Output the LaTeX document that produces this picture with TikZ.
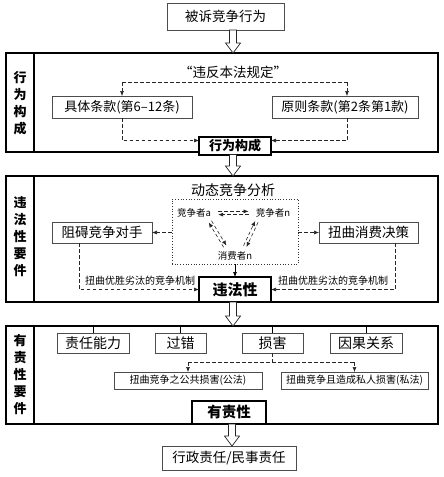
\documentclass[tikz,border=0pt]{standalone}
\usepackage{fontspec}
\setmainfont{Noto Sans CJK SC}
\usetikzlibrary{calc,arrows.meta}
\newcommand\hollowarr[3]{%
  \path let \p1=(#2), \p2=(#3) in [draw=black!85, fill=white, line width=0.7pt]
    (#1pt-3.5pt,\y1) -- (#1pt-3.5pt,\y2+10pt) -- (#1pt-7.5pt,\y2+10pt) -- (#1pt,\y2)
    -- (#1pt+7.5pt,\y2+10pt) -- (#1pt+3.5pt,\y2+10pt) -- (#1pt+3.5pt,\y1) -- cycle;}
\newcommand\duoarrow[2]{%
  \draw[dsh,-{Latex[length=5pt,width=4pt]}] ($(#1)!1.6pt!90:(#2)$) -- ($(#2)!1.6pt!-90:(#1)$);
  \draw[dsh,-{Latex[length=5pt,width=4pt]}] ($(#2)!1.6pt!90:(#1)$) -- ($(#1)!1.6pt!-90:(#2)$);}
\tikzset{
  fs/.style={font=\fontsize{#1}{#1}\selectfont},
  box/.style={draw=black!70, line width=0.8pt, inner sep=0pt, outer sep=0pt, align=center},
  tbox/.style={draw=black, line width=2pt, fill=white, inner sep=0pt, outer sep=0pt, align=center, font=\bfseries\fontsize{13}{13}\selectfont},
  sec/.style={draw=black, line width=1.2pt, inner sep=0pt, outer sep=0pt},
  lab/.style={align=center, font=\bfseries\fontsize{13}{17}\selectfont, inner sep=0pt},
  dsh/.style={dashed, dash pattern=on 3.5pt off 2.5pt, line width=0.6pt, draw=black!85},
  arr/.style={-{Latex[length=5pt,width=4pt]}},
}
\begin{document}
\begin{tikzpicture}[x=1pt,y=-1pt]
\useasboundingbox (0,0) rectangle (444,477);
% top
\node[box, minimum width=117pt, minimum height=27pt, fs=13.5] (top) at (225.5,16.5) {被诉竞争行为};

% section 1
\node[sec, minimum width=432pt, minimum height=99pt] (sec1) at (222,102.5) {};
\draw[line width=1.2pt] (34,0 |- sec1.north) -- (34,0 |- sec1.south);
\node[lab] (l1) at (20,103) {行\\为\\构\\成};
\node[fs=13.5, inner sep=0pt] (q) at (233,72) {“违反本法规定”};
\node[box, minimum width=140pt, minimum height=22pt, fs=13] (jt) at (122,107) {具体条款(第6–12条)};
\node[box, minimum width=146pt, minimum height=22pt, fs=13] (yz) at (345,107) {原则条款(第2条第1款)};
\node[tbox, minimum width=72pt, minimum height=18pt] (xw) at (235,145.5) {行为构成};
\coordinate (d1) at (jt.north |- 0,82);
\coordinate (d2) at (347,82);
\draw[dsh] (d1) -- (d2);
\draw[dsh,arr] (d1) -- (jt.north);
\draw[dsh,arr] (d2) -- (d2 |- yz.north);
\draw[dsh,arr] (jt.south) |- ($(xw.west)+(0,-5)$);
\draw[dsh,arr] (d2 |- yz.south) |- ($(xw.east)+(0,-5)$);

% section 2
\node[sec, minimum width=432pt, minimum height=126pt] (sec2) at (222,239) {};
\draw[line width=1.2pt] (34,0 |- sec2.north) -- (34,0 |- sec2.south);
\node[lab] (l2) at (20,237) {违\\法\\性\\要\\件};
\node[fs=14, inner sep=0pt] (dt) at (233,190.5) {动态竞争分析};
\node[draw=black!80, dotted, line width=0.7pt, minimum width=126pt, minimum height=65pt, inner sep=0pt] (dot) at (235,231.5) {};
\node[fs=9.5, inner sep=1pt] (ca) at (194,213) {竞争者a};
\node[fs=9.5, inner sep=1pt] (cn) at (273,213) {竞争者n};
\node[fs=9.5, inner sep=1pt] (cs) at (235,256) {消费者n};
\coordinate (h1) at ($(ca.east)+(6,0)$);
\coordinate (h2) at ($(cn.west)+(-6,0)$);
\duoarrow{h1}{h2}
\coordinate (a1) at ($(ca.south east)+(-2,3)$);
\coordinate (a2) at ($(cs.north)+(-10,-4)$);
\coordinate (b1) at ($(cn.south west)+(2,3)$);
\coordinate (b2) at ($(cs.north)+(10,-4)$);
\duoarrow{a1}{a2}
\duoarrow{b1}{b2}
\node[box, minimum width=100pt, minimum height=21pt, fs=13.5] (zd) at (102,232.5) {阻碍竞争对手};
\node[box, minimum width=99pt, minimum height=21pt, fs=13.5] (nq) at (368.5,232.5) {扭曲消费决策};
\draw[dsh,arr] (dot.west |- zd.east) -- (zd.east);
\draw[dsh,arr] (dot.east |- nq.west) -- (nq.west);
\node[tbox, minimum width=72pt, minimum height=25pt, font=\bfseries\fontsize{15}{15}\selectfont] (wf) at (235,289.5) {违法性};
\draw[line width=0.7pt,arr] (dot.south) -- (wf.north);
\draw[dsh,arr] ($(zd.south west)!0.27!(zd.south east)$) |- (wf.west);
\draw[dsh,arr] ($(nq.south west)!0.77!(nq.south east)$) |- (wf.east);
\node[fs=10, inner sep=0pt] (m1) at (140,281) {扭曲优胜劣汰的竞争机制};
\node[fs=10, inner sep=0pt] (m2) at (333,281) {扭曲优胜劣汰的竞争机制};

% section 3
\node[sec, minimum width=432pt, minimum height=98pt] (sec3) at (222,375) {};
\draw[line width=1.2pt] (34,0 |- sec3.north) -- (34,0 |- sec3.south);
\node[lab] (l3) at (20,375) {有\\责\\性\\要\\件};
\node[box, minimum width=72pt, minimum height=20pt, fs=14] (r1) at (93,343) {责任能力};
\node[box, minimum width=51pt, minimum height=20pt, fs=14] (r2) at (180.5,343) {过错};
\node[box, minimum width=61pt, minimum height=20pt, fs=14] (r3) at (272.5,343) {损害};
\node[box, minimum width=72pt, minimum height=20pt, fs=14] (r4) at (366,343) {因果关系};
\foreach \r in {r1,r2,r3,r4} \draw[line width=0.8pt] (\r.north) -- (\r.north |- sec3.north);
\node[box, minimum width=148pt, minimum height=17pt, fs=10] (p1) at (188,380.5) {扭曲竞争之公共损害(公法)};
\node[box, minimum width=147pt, minimum height=17pt, fs=10] (p2) at (354.5,380.5) {扭曲竞争且造成私人损害(私法)};
\coordinate (h) at (r3.south |- 0,362);
\draw[dsh] (r3.south) -- (h);
\draw[dsh] (p1.north |- h) -- (p2.north |- h);
\draw[dsh,arr] (p1.north |- h) -- (p1.north);
\draw[dsh,arr] (p2.north |- h) -- (p2.north);
\node[tbox, minimum width=74pt, minimum height=23pt, font=\bfseries\fontsize{14.5}{14.5}\selectfont] (yz2) at (229,412.5) {有责性};

\node[box, minimum width=134pt, minimum height=24pt, fs=13.5] (fin) at (229,458) {行政责任/民事责任};

% hollow arrows
\hollowarr{233}{top.south}{sec1.north}
\hollowarr{233}{xw.south}{sec2.north}
\hollowarr{233}{wf.south}{sec3.north}
\hollowarr{232}{yz2.south}{fin.north}
\end{tikzpicture}
\end{document}
